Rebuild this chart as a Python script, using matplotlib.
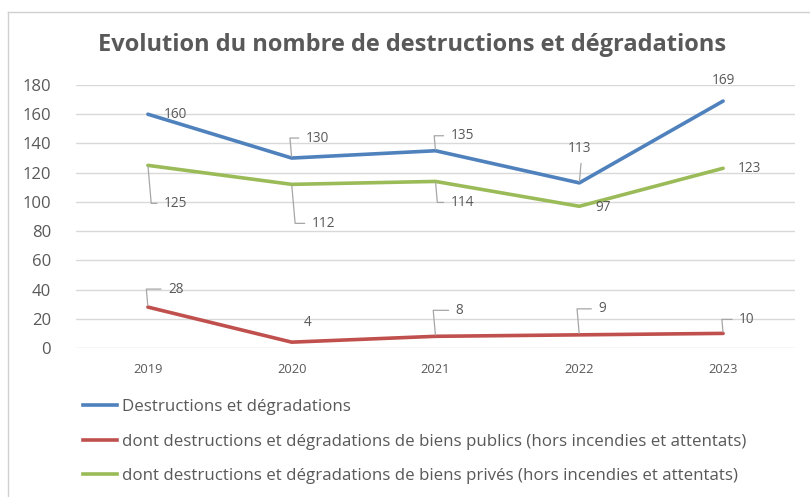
import matplotlib
matplotlib.use('Agg')
import matplotlib.pyplot as plt
from matplotlib.lines import Line2D

# data
years = ['2019', '2020', '2021', '2022', '2023']
total = [160, 130, 135, 113, 169]
publics = [28, 4, 8, 9, 10]
prives = [125, 112, 114, 97, 123]

labels = ['Destructions et dégradations',
          'dont destructions et dégradations de biens publics (hors incendies et attentats)',
          'dont destructions et dégradations de biens privés (hors incendies et attentats)']
colors = ['#4F81BD', '#C0504D', '#9BBB59']

# label offsets in pixels (dx, dy, leader?)
total_off = [(16, 0, False), (14, 20, True), (15, 15, True), (0, 34, 'up'), (0, 21, 'c')]
publics_off = [(20, 18, True), (12, 20, False), (20, 26, True), (19, 26, True), (16, 14, True)]
prives_off = [(16, -38, True), (20, -39, True), (15, -21, True), (16, -1, False), (15, 0, False)]

plt.rcParams['font.family'] = ['Open Sans', 'DejaVu Sans']
TXT = '#595959'
LEAD = '#A6A6A6'
LBL = 9.8

fig = plt.figure(figsize=(8.1, 4.97), dpi=100)
ax = fig.add_axes([76/810, 149/497, 719/810, 263/497])

x = list(range(len(years)))
series = [total, publics, prives]
offsets = [total_off, publics_off, prives_off]
for vals, col in zip(series, colors):
    ax.plot(x, vals, color=col, lw=2.6, solid_capstyle='round', zorder=3)

for vals, offs in zip(series, offsets):
    for xi, v, (dx, dy, lead) in zip(x, vals, offs):
        if lead is True:
            ax.annotate(str(v), xy=(xi, v), xytext=(dx, dy), textcoords='offset pixels',
                        ha='left', va='center', fontsize=LBL, color=TXT, zorder=4,
                        arrowprops=dict(arrowstyle='-', color=LEAD, lw=0.9,
                                        relpos=(0, 0.5), shrinkA=3, shrinkB=1,
                                        connectionstyle='angle,angleA=0,angleB=95,rad=0'))
        elif lead == 'up':
            ax.annotate(str(v), xy=(xi, v), xytext=(dx, dy), textcoords='offset pixels',
                        ha='center', va='center', fontsize=LBL, color=TXT, zorder=4,
                        arrowprops=dict(arrowstyle='-', color=LEAD, lw=0.9,
                                        relpos=(0.6, 0), shrinkA=3, shrinkB=1))
        elif lead == 'c':
            ax.annotate(str(v), xy=(xi, v), xytext=(dx, dy), textcoords='offset pixels',
                        ha='center', va='center', fontsize=LBL, color=TXT, zorder=4)
        else:
            ax.annotate(str(v), xy=(xi, v), xytext=(dx, dy), textcoords='offset pixels',
                        ha='left', va='center', fontsize=LBL, color=TXT, zorder=4)

ax.set_xlim(-0.5, len(years) - 0.5)
ax.set_ylim(0, 180)
ax.set_yticks(range(0, 181, 20))
ax.set_xticks(x)
ax.set_xticklabels(years)
ax.grid(axis='y', color='#D9D9D9', lw=1)
ax.set_axisbelow(True)
for s in ax.spines.values():
    s.set_visible(False)
ax.tick_params(axis='y', length=0, labelsize=12, labelcolor=TXT, pad=18)
ax.tick_params(axis='x', length=0, labelsize=9.3, labelcolor=TXT, pad=11)

fig.text(412/810, 1 - 45/497, 'Evolution du nombre de destructions et dégradations',
         ha='center', va='center', fontsize=17, fontweight='bold', color=TXT)

handles = [Line2D([0], [0], color=c, lw=2.6) for c in colors]
fig.legend(handles, labels, loc='upper left', bbox_to_anchor=(83/810, 1 - 399/497),
           frameon=False, fontsize=12.2, labelcolor=TXT, handlelength=2.0,
           handletextpad=0.3, labelspacing=1.1, borderaxespad=0, borderpad=0)

# chart frame (left and top edges visible)
fig.add_artist(Line2D([8/810, 8/810], [0, 1 - 12/497], color='#D0D0D0', lw=1))
fig.add_artist(Line2D([8/810, 1], [1 - 12/497, 1 - 12/497], color='#D0D0D0', lw=1))

fig.savefig('out.png', dpi=100)
